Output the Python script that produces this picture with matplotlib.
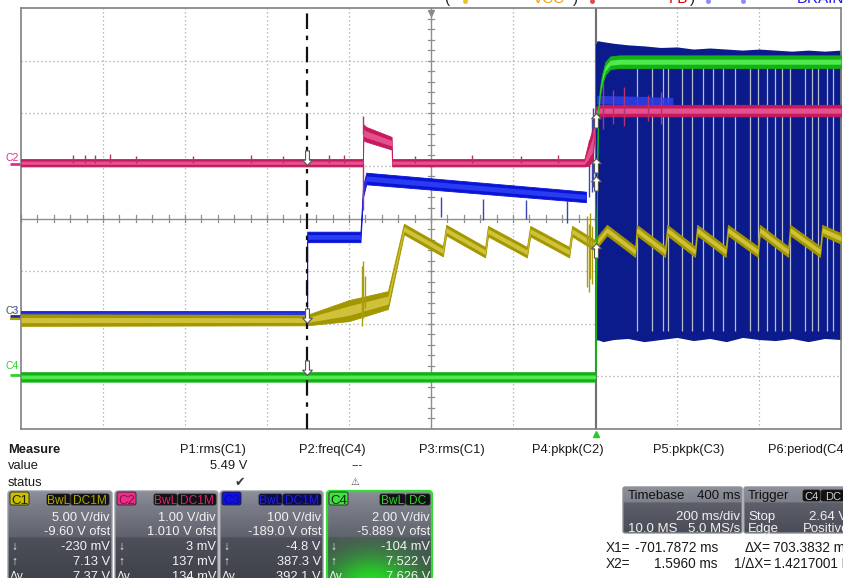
import numpy as np
import matplotlib
matplotlib.use("Agg")
import matplotlib.pyplot as plt
from matplotlib.patches import FancyBboxPatch
from matplotlib.colors import to_rgb

plt.rcParams["font.family"] = ["Liberation Sans", "DejaVu Sans"]

W, H = 843, 578

# ---------------- acquisition settings ----------------
t_min, t_max = -1400.0, 600.0          # ms, 200 ms/div, 10 divisions
ms_per_div = 200.0
n_ydiv = 8
cursor_x1 = -701.7872                  # ms
cursor_x2 = 1.5960                     # ms

# ---------------- C1 (VCC, yellow): level / half band, screen divisions ----------------
c1_t = [-1400, -702, -600, -505, -466, -371, -363, -268, -261, -166, -158, -63, -56, -2, 2,
        29, 98, 102, 171, 176, 244, 249, 319, 324, 397, 402, 471, 476, 549, 554, 600]
c1_v = [2.07, 2.07, 2.25, 2.45, 3.80, 3.38, 3.78, 3.36, 3.76, 3.36, 3.76, 3.36, 3.76, 3.50, 3.52,
        3.78, 3.37, 3.78, 3.37, 3.78, 3.37, 3.78, 3.37, 3.78, 3.37, 3.78, 3.37, 3.78, 3.37, 3.78, 3.62]
c1_hw = [0.11, 0.10, 0.20, 0.17, 0.10, 0.10, 0.10, 0.10, 0.10, 0.10, 0.10, 0.10, 0.10, 0.10, 0.10,
         0.10, 0.10, 0.10, 0.10, 0.10, 0.10, 0.10, 0.10, 0.10, 0.10, 0.10, 0.10, 0.10, 0.10, 0.10, 0.10]
c1_spike_t = [-569, -566, -562, -20, -15, -11, -7]
c1_spike_lo = [1.95, 2.10, 2.30, 2.70, 2.60, 2.85, 2.75]
c1_spike_hi = [3.10, 3.20, 2.90, 4.05, 3.90, 4.10, 3.85]

# ---------------- C2 (FB, magenta) ----------------
c2_t = [-1400, -566, -565, -558, -496, -495, -26, -16, -6, 2, 12, 600]
c2_v = [5.06, 5.06, 5.64, 5.60, 5.43, 5.06, 5.06, 5.22, 5.40, 6.00, 6.05, 6.05]
c2_hw = [0.07, 0.07, 0.15, 0.14, 0.12, 0.07, 0.07, 0.22, 0.30, 0.12, 0.11, 0.11]
c2_spike_t = [-1273, -1244, -1220, -1183, -1120, -980, -840, -760, -650, -612, -565, -567,
              -440, -300, -180, -90, 20, 45, 70, 130, 160]
c2_spike_lo = [5.06, 5.06, 5.06, 5.06, 5.06, 5.06, 5.06, 5.06, 5.06, 5.06, 5.60, 4.16,
               5.06, 5.06, 5.06, 5.06, 5.70, 5.80, 5.75, 5.85, 5.80]
c2_spike_hi = [5.20, 5.20, 5.20, 5.22, 5.18, 5.18, 5.20, 5.18, 5.20, 5.20, 5.95, 5.06,
               5.18, 5.20, 5.18, 5.20, 6.60, 6.45, 6.50, 6.35, 6.40]

# ---------------- C3 (DRAIN, blue) before switching starts ----------------
c3_t = [-1400, -702, -702, -572, -566, -558, -22]
c3_v = [2.21, 2.21, 3.65, 3.65, 4.50, 4.76, 4.41]
c3_hw = [0.03, 0.03, 0.10, 0.10, 0.10, 0.11, 0.10]
c3_spike_t = [-376, -273, -168, -68, -14, -8, -4]
c3_spike_lo = [4.03, 3.97, 3.99, 3.92, 4.40, 4.50, 4.60]
c3_spike_hi = [4.41, 4.38, 4.36, 4.33, 5.50, 5.90, 6.10]

# C3 switching envelope after the trigger
c3s_t = [1, 5, 20, 45, 80, 120, 160, 200, 240, 280, 320, 360, 400, 440, 480, 520, 560, 600]
c3s_top = [7.30, 7.38, 7.36, 7.33, 7.30, 7.28, 7.25, 7.26, 7.22, 7.24, 7.22, 7.20, 7.22, 7.20,
           7.18, 7.20, 7.18, 7.20]
c3s_bot = [1.62, 1.70, 1.66, 1.70, 1.72, 1.66, 1.70, 1.74, 1.68, 1.72, 1.66, 1.74, 1.70, 1.68,
           1.72, 1.66, 1.72, 1.70]
c3s_gaps = [102, 139, 166, 178, 212, 237, 263, 288, 312, 342, 378, 398, 420, 439, 456,
            476, 512, 529, 544, 566, 581]
c3s_plateau_t = [4, 60, 120, 190]
c3s_plateau_v = [6.26, 6.25, 6.24, 6.22]

# ---------------- C4 (green) ----------------
c4_t = [-1400, 1, 4, 7, 12, 17, 25, 37, 60, 600]
c4_v = [0.99, 0.99, 4.00, 6.00, 6.40, 6.63, 6.85, 6.96, 6.98, 6.98]
c4_hw = [0.09, 0.09, 0.05, 0.06, 0.08, 0.10, 0.12, 0.12, 0.12, 0.12]

# cursor read-out marks (screen divisions)
x1_marks = [5.02, 2.02, 1.03]
x2_marks = [6.00, 5.15, 4.81, 3.54]

# ---------------- panel texts ----------------
measure_heads = ["P1:rms(C1)", "P2:freq(C4)", "P3:rms(C1)", "P4:pkpk(C2)", "P5:pkpk(C3)", "P6:period(C4)"]
channel_names = ["C1", "C2", "C3", "C4"]
channel_vdiv = ["5.00 V/div", "1.00 V/div", "100 V/div", "2.00 V/div"]
channel_ofst = ["-9.60 V ofst", "1.010 V ofst", "-189.0 V ofst", "-5.889 V ofst"]
channel_min = ["-230 mV", "3 mV", "-4.8 V", "-104 mV"]
channel_max = ["7.13 V", "137 mV", "387.3 V", "7.522 V"]
channel_dy = ["7.37 V", "134 mV", "392.1 V", "7.626 V"]
channel_cpl = ["DC1M", "DC1M", "DC1M", "DC"]

col_outer = {"C1": "#a39700", "C2": "#c8185e", "C3": "#0a14d6", "C4": "#14b014"}
col_inner = {"C1": "#cfc23a", "C2": "#e2528c", "C3": "#2a3cf2", "C4": "#4eea4e"}

fig = plt.figure(figsize=(W / 100, H / 100), dpi=100)
fig.patch.set_facecolor("white")

# ---------- full-figure pixel overlay for the readout panel ----------
ov = fig.add_axes([0, 0, 1, 1])
ov.axis("off")


def px_text(x, y, s, ha="left", size=9.3, color="#1a1a1a", weight="normal", z=6, **kw):
    ov.text(x, y, s, ha=ha, va="baseline", fontsize=size, color=color, fontweight=weight,
            zorder=z, **kw)


def grad_box(x0, y0, x1, y1, stops, edge, lw=1.0, radius=3, glow=None):
    patch = FancyBboxPatch((x0, y0), x1 - x0, y1 - y0,
                           boxstyle=f"round,pad=0,rounding_size={radius}",
                           fc="none", ec=edge, lw=lw, zorder=4)
    ov.add_patch(patch)
    ys = np.arange(y0, y1 + 1, 0.5)
    xs = np.arange(x0, x1 + 1, 0.5)
    pos = [s[0] for s in stops]
    cols = np.array([to_rgb(s[1]) for s in stops])
    rgb = np.stack([np.interp(ys, pos, cols[:, k]) for k in range(3)], axis=-1)
    img = np.repeat(rgb[:, None, :], len(xs), axis=1)
    if glow is not None:
        gx, gy, sx, sy, gcol, ymin = glow
        X, Y = np.meshgrid(xs, ys)
        w = np.exp(-(((X - gx) / sx) ** 2 + ((Y - gy) / sy) ** 2))
        w[Y < ymin] *= 0.15
        img = img * (1 - w[..., None]) + np.array(to_rgb(gcol)) * w[..., None]
    im = ov.imshow(img, extent=[x0, x1, y1, y0], aspect="auto", zorder=3,
                   interpolation="bilinear")
    im.set_clip_path(patch)


def chip(x0, x1, y0, y1, s, fc, tc, size=8.6):
    ov.add_patch(FancyBboxPatch((x0, y0), x1 - x0, y1 - y0,
                                boxstyle="round,pad=0,rounding_size=2",
                                fc=fc, ec="#222222", lw=0.6, zorder=5))
    ov.text((x0 + x1) / 2, y1 - 1.5, s, ha="center", va="baseline", fontsize=size,
            color=tc, zorder=6)


# heading partly above the top edge
for s, x, c, ha in [("(", 445, "#222222", "left"), ("VCC", 565, "#f0a000", "right"),
                    (")", 573, "#222222", "left"), ("FB", 688, "#e00000", "right"),
                    (")", 690, "#222222", "left"), ("DRAIN)", 849, "#1a1ae8", "right")]:
    px_text(x, 3, s, ha=ha, size=11, color=c)
for x, c in [(465, "#f0c020"), (592, "#e04848"), (708, "#8a8aff"), (743, "#8a8aff")]:
    ov.plot([x], [0.5], "o", ms=2.5, color=c, zorder=6)

# channel ground markers on the left
for name, y_lab, y_line, c in [("C2", 161, 164, "#e0308a"), ("C3", 314, 316, "#1a2a9a"),
                               ("C4", 369, 375, "#2ad42a")]:
    px_text(6, y_lab, name, size=7.5, color=c)
    ov.plot([10, 21], [y_line, y_line], color=c, lw=2, solid_capstyle="butt", zorder=6)
px_text(6, 314, "C1", size=7.5, color="#c8c030", alpha=0.5)
ov.plot([10, 21], [319, 319], color="#b0a400", lw=1.6, solid_capstyle="butt", zorder=6)

# measurement table
px_text(8, 453, "Measure", weight="bold")
px_text(8, 469, "value")
px_text(8, 486, "status")
for s, x in zip(measure_heads, [213, 332, 452, 568, 689, 808]):
    px_text(x, 453, s, ha="center")
px_text(247, 469, "5.49 V", ha="right")
px_text(357, 468, "---", ha="center", size=8)
px_text(240, 486, "\u2714", ha="center", size=9, color="#3a3a3a")
px_text(355, 485, "\u26a0", ha="center", size=7, color="#505050")
ov.plot([596], [434], marker="^", ms=5, color="#22cc22", zorder=6)

# channel descriptor boxes
box_x = [(8, 112), (115, 218), (220, 323), (327, 432)]
chip_fc = {"C1": "#c8c000", "C2": "#e8308a", "C3": "#1010e0", "C4": "#40e040"}
chip_tc = {"C1": "#202000", "C2": "#8a1050", "C3": "#0808a0", "C4": "#0a300a"}
tag_fc = {"C1": "#111111", "C2": "#111111", "C3": "#0a0a50", "C4": "#111111"}
tag_tc = {"C1": "#b0a800", "C2": "#e0207a", "C3": "#2020e0", "C4": "#30d030"}
box_stops = [(491, "#8d909a"), (506, "#7b7e89"), (537, "#5f626d"), (538, "#4d505a"), (586, "#3e4048")]
for i, name in enumerate(channel_names):
    x0, x1 = box_x[i]
    if name == "C4":
        grad_box(x0, 491, x1, 586, box_stops, "#30e030", lw=1.6,
                 glow=(372, 588, 48, 34, "#22e622", 538))
    else:
        grad_box(x0, 491, x1, 586, box_stops, "#9a9ca4", lw=1.0)
    chip(x0 + 2, x0 + 21, 492, 505, name, chip_fc[name], chip_tc[name], size=9.5)
    if name == "C4":
        chip(x0 + 53, x0 + 78, 494, 505, "BwL", tag_fc[name], tag_tc[name])
        chip(x0 + 79, x0 + 103, 494, 505, channel_cpl[i], tag_fc[name], tag_tc[name])
    else:
        chip(x0 + 39, x0 + 62, 494, 505, "BwL", tag_fc[name], tag_tc[name])
        chip(x0 + 63, x0 + 101, 494, 505, channel_cpl[i], tag_fc[name], tag_tc[name])
    tc = "#f2f2f2"
    px_text(x1 - 2, 521, channel_vdiv[i], ha="right", color=tc)
    px_text(x1 - 2, 535, channel_ofst[i], ha="right", color=tc)
    px_text(x1 - 2, 550, channel_min[i], ha="right", color=tc)
    px_text(x1 - 2, 565, channel_max[i], ha="right", color=tc)
    px_text(x1 - 2, 580, channel_dy[i], ha="right", color=tc)
    px_text(x0 + 3, 550, "\u2193", color=tc, size=8.5)
    px_text(x0 + 3, 565, "\u2191", color=tc, size=8.5)
    px_text(x0 + 2, 580, "\u0394y", color=tc, size=8.5)

# timebase / trigger boxes
tb_stops = [(487, "#8e919b"), (502, "#7f828d"), (503, "#5d606b"), (533, "#4a4d57")]
grad_box(623, 487, 742, 533, tb_stops, "#8e9098", lw=1.0, radius=2)
grad_box(744, 487, 852, 533, tb_stops, "#8e9098", lw=1.0, radius=2)
tcol = "#f0f0f0"
px_text(628, 499, "Timebase", size=9.5, color="#111111")
px_text(740, 499, "400 ms", ha="right", size=9.5, color="#111111")
px_text(740, 520, "200 ms/div", ha="right", size=9.5, color=tcol)
px_text(628, 532, "10.0 MS", size=9.5, color=tcol)
px_text(740, 532, "5.0 MS/s", ha="right", size=9.5, color=tcol)
px_text(748, 499, "Trigger", size=9.5, color="#111111")
chip(803, 820, 490, 501, "C4", "#111111", "#d0d0d0", size=8)
chip(821, 846, 490, 501, "DC", "#111111", "#d0d0d0", size=8)
px_text(748, 520, "Stop", size=9.5, color=tcol)
px_text(847, 520, "2.64 V", ha="right", size=9.5, color=tcol)
px_text(748, 532, "Edge", size=9.5, color=tcol)
px_text(849, 532, "Positive", ha="right", size=9.5, color=tcol)

# cursor read-outs
dx = cursor_x2 - cursor_x1
rs = 9.8
px_text(606, 552, "X1=", size=rs)
px_text(718, 552, f"{cursor_x1:.4f} ms", ha="right", size=rs)
px_text(771, 552, "\u0394X=", ha="right", size=rs)
px_text(852, 552, f"{dx:.4f} ms", ha="right", size=rs)
px_text(606, 568, "X2=", size=rs)
px_text(718, 568, f"{cursor_x2:.4f} ms", ha="right", size=rs)
px_text(771, 568, "1/\u0394X=", ha="right", size=rs)
px_text(858, 568, "1.4217001 Hz", ha="right", size=rs)

ov.set_xlim(0, W)
ov.set_ylim(H, 0)

# ---------------- oscilloscope screen ----------------
ax = fig.add_axes([21 / W, 1 - 429 / H, 820 / W, 421 / H])
ax.set_facecolor("white")
ax.set_xlim(t_min, t_max)
ax.set_ylim(0, n_ydiv)
ax.set_xticks([])
ax.set_yticks([])
for sp in ax.spines.values():
    sp.set_color("#808080")
    sp.set_linewidth(1.2)

t_center = (t_min + t_max) / 2
grid_kw = dict(color="#a6a6a6", lw=0.9, ls=(0, (1, 2.2)), zorder=1)
for tx in np.arange(t_min + ms_per_div, t_max, ms_per_div):
    if abs(tx - t_center) > 1:
        ax.axvline(tx, **grid_kw)
for yy in range(1, n_ydiv):
    if yy != n_ydiv // 2:
        ax.axhline(yy, **grid_kw)
ax.axvline(t_center, color="#8e8e8e", lw=1.0, zorder=1)
ax.axhline(n_ydiv / 2, color="#8e8e8e", lw=1.0, zorder=1)
for tx in np.arange(t_min, t_max, ms_per_div / 5):
    ax.plot([tx, tx], [n_ydiv / 2 - 0.06, n_ydiv / 2 + 0.06], color="#8e8e8e", lw=0.9, zorder=1)
for yy in np.arange(0, n_ydiv, 0.2):
    ax.plot([t_center - 7, t_center + 7], [yy, yy], color="#8e8e8e", lw=0.9, zorder=1)
ax.plot([t_center], [7.9], marker="v", ms=4, color="#8a8a8a", zorder=2, clip_on=False)

# X2 cursor
ax.axvline(cursor_x2, color="#707070", lw=1.5, zorder=1.5)


def band(t, v, hw, name, z, inner=0.45):
    t = np.asarray(t, float)
    v = np.asarray(v, float)
    hw = np.asarray(hw, float)
    ax.fill_between(t, v - hw, v + hw, color=col_outer[name], lw=0.6, ec=col_outer[name], zorder=z)
    ax.fill_between(t, v - hw * inner, v + hw * inner, color=col_inner[name], lw=0, zorder=z + 0.01)


# C3 switching envelope
ax.fill_between(c3s_t, c3s_bot, c3s_top, color="#0b1b8c", lw=0, zorder=2)
ax.vlines(c3s_gaps, 1.86, 6.86, color="#b8bccb", lw=0.9, zorder=2.1)
ax.fill_between(c3s_plateau_t, np.array(c3s_plateau_v) - 0.08, np.array(c3s_plateau_v) + 0.08,
                color="#2c3ee6", lw=0, alpha=0.9, zorder=2.2)

# C3 before switching
band(c3_t, c3_v, c3_hw, "C3", 3)
ax.vlines(c3_spike_t, c3_spike_lo, c3_spike_hi, color="#3a46b0", lw=1.0, zorder=2.9)

# C2
band(c2_t, c2_v, c2_hw, "C2", 4)
ax.vlines(c2_spike_t, c2_spike_lo, c2_spike_hi, color="#b8306e", lw=1.0, zorder=4.05)

# C1
band(c1_t, c1_v, c1_hw, "C1", 5)
ax.vlines(c1_spike_t, c1_spike_lo, c1_spike_hi, color="#a89c10", lw=1.0, zorder=5.05)

# C4
band(c4_t, c4_v, c4_hw, "C4", 6, inner=0.4)

# X1 cursor
ax.axvline(cursor_x1, color="#111111", lw=1.6, ls=(0, (7, 3, 2, 3)), zorder=7)

# cursor markers: arrow tip sits on the trace
down_arrow = [(0, 0), (-0.5, 0.55), (-0.2, 0.55), (-0.2, 1.5), (0.2, 1.5), (0.2, 0.55), (0.5, 0.55), (0, 0)]
up_arrow = [(x, -y) for x, y in down_arrow]
ax.plot([cursor_x1] * len(x1_marks), x1_marks, ls="none", marker=down_arrow, ms=21,
        mfc="white", mec="#555555", mew=0.8, zorder=8)
ax.plot([cursor_x2] * len(x2_marks), x2_marks, ls="none", marker=up_arrow, ms=21,
        mfc="white", mec="#555555", mew=0.8, zorder=8)

fig.savefig("out.png", dpi=100, facecolor="white")
